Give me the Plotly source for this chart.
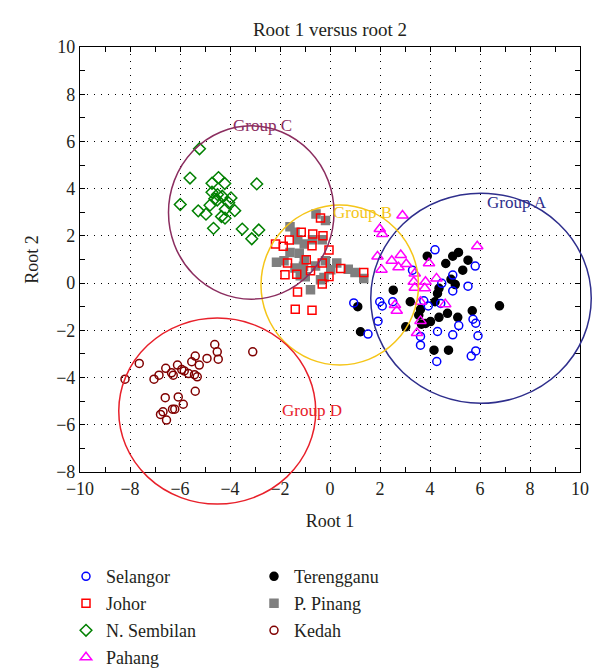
import plotly.graph_objects as go

# ---------------- data ----------------
selangor_x = [4.20, 5.81, 4.91, 4.47, 5.52, 4.91, 3.30, 3.75, 3.93, 4.43, 0.95, 1.99, 2.09, 2.51,
              1.92, 1.52, 4.30, 4.91, 5.15, 5.72, 5.83, 5.92, 3.62, 3.62, 5.83, 5.65, 4.27]
selangor_y = [1.41, 0.72, 0.34, -0.01, -0.13, -0.33, 0.55, -0.75, -0.97, -0.86, -0.84, -0.79, -0.97, -0.79,
              -1.61, -2.16, -2.05, -2.19, -1.80, -1.53, -1.70, -2.23, -2.26, -2.63, -2.87, -3.09, -3.32]

johor_x = [-0.38, -1.15, -0.69, -0.28, -1.63, -2.18, -1.87, -0.72, -0.04, -1.70, -0.95, -0.31, -0.78,
           -1.80, -1.33, 0.43, -0.04, -0.31, -1.30, 1.35, -0.72, -1.39]
johor_y = [2.76, 2.15, 2.08, 2.01, 1.83, 1.66, 1.56, 1.58, 1.40, 0.85, 0.99, 0.85, 0.52,
           0.35, 0.38, 0.62, 0.28, -0.04, -0.38, 0.45, -1.15, -1.11]

sembilan_x = [-5.22, -5.60, -4.72, -4.46, -4.21, -2.93, -4.72, -4.50, -4.31, -4.61, -3.96, -5.99, -4.80,
              -4.05, -4.51, -5.27, -4.96, -4.19, -3.81, -4.34, -4.20, -4.66, -3.51, -2.85, -3.13]
sembilan_y = [5.69, 4.45, 4.23, 4.47, 4.22, 4.20, 3.85, 3.75, 3.68, 3.57, 3.61, 3.33, 3.30,
              3.40, 3.52, 3.06, 2.92, 3.13, 3.07, 2.82, 2.75, 2.32, 2.29, 2.25, 1.88]

pahang_x = [2.90, 1.99, 2.09, 1.90, 2.83, 2.47, 2.06, 2.74, 3.05, 3.96, 3.39, 3.35, 3.82, 4.26,
            3.79, 3.39, 4.61, 3.62, 2.60, 2.67, 3.62, 3.48, 5.89]
pahang_y = [2.86, 2.29, 2.08, 1.13, 1.19, 0.95, 0.57, 0.67, 0.81, 0.84, 0.41, 0.06, 0.06, 0.20,
            -0.22, -0.20, -0.89, -0.79, -0.93, -1.17, -1.60, -2.11, 1.56]

terengganu_x = [3.89, 4.91, 5.14, 4.63, 5.52, 5.31, 4.84, 5.01, 4.36, 4.30, 4.20, 3.21, 3.62, 4.70,
                4.36, 5.11, 5.69, 3.55, 4.02, 3.82, 3.66, 3.03, 4.16, 4.74, 6.78, 2.53, 1.11, 1.22]
terengganu_y = [1.14, 1.14, 1.30, 0.83, 0.97, 0.55, 0.16, -0.06, -0.22, -0.44, -0.79, -0.79, -1.11, -1.28,
                -1.45, -1.45, -1.17, -1.36, -1.63, -1.71, -1.74, -1.85, -2.84, -2.84, -0.96, -0.30, -1.00, -2.06]

pinang_x = [-0.56, -0.18, -1.60, -1.40, -1.29, -1.03, -0.70, -0.31, -1.60, -1.23, -2.14, -1.84, -1.03,
            -1.40, -1.06, -0.58, -0.18, 0.27, 0.03, 0.73, 1.00, 1.35, -1.19, -0.99, -0.38, -0.24,
            -0.78, -1.13]
pinang_y = [2.93, 2.65, 2.39, 2.15, 1.84, 1.66, 1.84, 1.84, 1.30, 1.26, 0.88, 0.95, 0.99,
            0.64, 0.71, 0.73, 0.95, 0.85, 0.57, 0.59, 0.45, 0.20, 0.31, 0.27, 0.14, 0.24,
            -0.28, 0.52]

kedah_x = [-4.61, -4.51, -4.47, -3.09, -5.39, -4.92, -5.53, -5.23, -7.63, -6.57, -6.10, -5.93, -5.83,
           -5.66, -5.42, -5.31, -6.34, -6.27, -6.84, -7.04, -8.20, -5.39, -6.59, -6.07, -5.87, -6.30,
           -6.21, -6.68, -6.78, -6.54]
kedah_y = [-2.60, -2.91, -3.22, -2.91, -3.09, -3.19, -3.33, -3.47, -3.40, -3.61, -3.47, -3.66, -3.72,
           -3.83, -3.88, -3.97, -3.80, -3.90, -3.90, -4.07, -4.07, -4.58, -4.85, -4.82, -5.13, -5.34,
           -5.34, -5.45, -5.56, -5.80]

# group ellipses: centre x, centre y, radius x, radius y (data units)
group_names = ["Group A", "Group B", "Group C", "Group D"]
group_cx = [6.04, 0.39, -3.15, -4.51]
group_cy = [-0.64, -0.08, 2.99, -5.42]
group_rx = [4.41, 3.15, 3.31, 3.94]
group_ry = [4.45, 3.39, 3.67, 3.94]
group_label_x = [7.48, 1.30, -2.72, -0.73]
group_label_y = [3.43, 3.00, 6.69, -5.38]

x_range = [-10, 10]
y_range = [-8, 10]

# ---------------- styles ----------------
FONT = "Liberation Serif"
TXT = "#231f20"
group_colors = ["#2e2e8c", "#f5c518", "#8b2d5f", "#e8202a"]

# the page body adds an 8px offset; the figure is sized so the whole page is 600x671
FIG_W, FIG_H = 592, 663

fig = go.Figure()

series = [
    # name, x, y, symbol, size, color, legend, rank
    ("Terengganu", terengganu_x, terengganu_y, "circle", 8, "#000000", "legend2", 5),
    ("P. Pinang", pinang_x, pinang_y, "square", 8, "#7f7f7f", "legend2", 6),
    ("Kedah", kedah_x, kedah_y, "circle-open", 8, "#800000", "legend2", 7),
    ("Selangor", selangor_x, selangor_y, "circle-open", 8, "#0000ff", "legend", 1),
    ("Johor", johor_x, johor_y, "square-open", 8, "#ff0000", "legend", 2),
    ("N. Sembilan", sembilan_x, sembilan_y, "diamond-open", 9, "#008000", "legend", 3),
    ("Pahang", pahang_x, pahang_y, "triangle-up-open", 10, "#ff00ff", "legend", 4),
]
for name, xs, ys, sym, size, col, leg, rank in series:
    fig.add_trace(go.Scatter(
        x=xs, y=ys, mode="markers", name=name,
        marker=dict(symbol=sym, size=size, color=col, line=dict(color=col, width=1.5)),
        legend=leg, legendrank=rank, legendgroup=name,
    ))

# ellipses drawn in axis-domain units so they are not clipped (as in reference)
def to_dx(v):
    return (v - x_range[0]) / (x_range[1] - x_range[0])

def to_dy(v):
    return (v - y_range[0]) / (y_range[1] - y_range[0])

for i in range(len(group_names)):
    fig.add_shape(type="circle", xref="x domain", yref="y domain",
                  x0=to_dx(group_cx[i] - group_rx[i]), x1=to_dx(group_cx[i] + group_rx[i]),
                  y0=to_dy(group_cy[i] - group_ry[i]), y1=to_dy(group_cy[i] + group_ry[i]),
                  line=dict(color=group_colors[i], width=1.5), layer="above")
    fig.add_annotation(x=group_label_x[i], y=group_label_y[i], text=group_names[i],
                       showarrow=False, font=dict(family=FONT, size=17, color=group_colors[i]))

axis_common = dict(
    showline=True, linecolor="#000000", linewidth=1.2, mirror="ticks",
    ticks="inside", ticklen=5, tickwidth=1, tickcolor="#000000",
    dtick=2, tick0=0, automargin=False,
    minor=dict(dtick=1, ticks="inside", ticklen=5, tickcolor="#000000", showgrid=False),
    showgrid=True, gridcolor="#000000", gridwidth=1, griddash="1px,6px",
    zeroline=False,
    tickfont=dict(family=FONT, size=18, color=TXT),
)

fig.update_xaxes(range=x_range, title=dict(text="Root 1", font=dict(family=FONT, size=18, color=TXT), standoff=16),
                 **axis_common)
fig.update_yaxes(range=y_range, title=dict(text="Root 2", font=dict(family=FONT, size=18, color=TXT), standoff=12),
                 **axis_common)

legend_common = dict(
    orientation="v", bgcolor="rgba(0,0,0,0)", borderwidth=0,
    font=dict(family=FONT, size=18, color=TXT), tracegroupgap=0.6,
    xanchor="left", yanchor="top", itemwidth=30,
)

fig.update_layout(
    width=FIG_W, height=FIG_H,
    margin=dict(l=72, r=20, t=39, b=199, autoexpand=False),
    paper_bgcolor="#ffffff", plot_bgcolor="#ffffff",
    title=dict(text="Root 1 versus root 2", x=0.5, xanchor="center", xref="paper",
               yref="container", y=1 - 21 / FIG_H, yanchor="middle",
               font=dict(family=FONT, size=19, color=TXT)),
    legend=dict(x=-0.028, y=-0.2026, **legend_common),
    legend2=dict(x=0.348, y=-0.2026, **legend_common),
    showlegend=True,
)

fig.write_html("out.html")
